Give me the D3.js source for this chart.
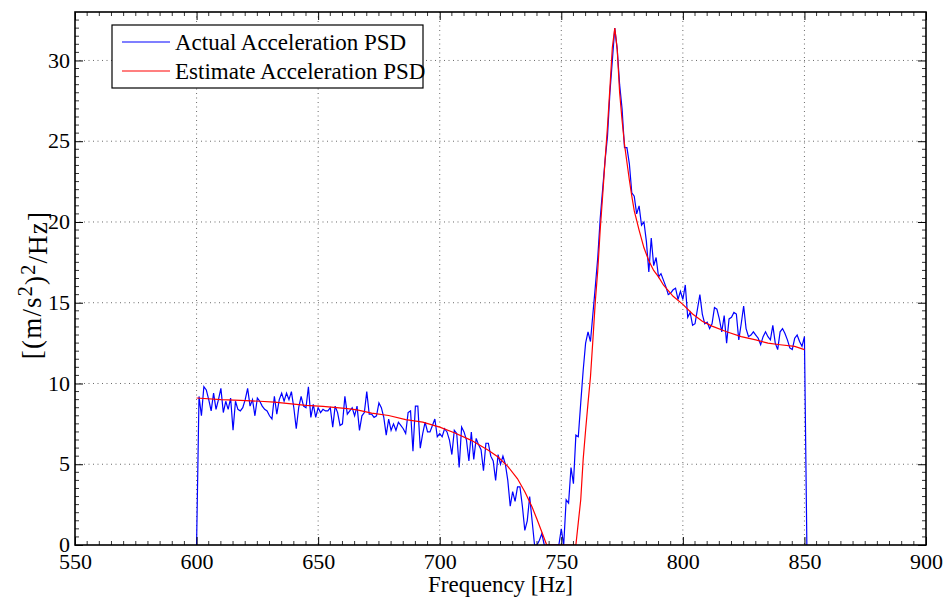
<!DOCTYPE html>
<html>
<head>
<meta charset="utf-8">
<script src="https://cdn.jsdelivr.net/npm/d3@7"></script>
<style>
  html, body { margin: 0; padding: 0; background: #fff; }
  svg text { font-family: "Liberation Serif", "Times New Roman", serif; fill: #000; }
</style>
</head>
<body>
<svg id="chart" width="948" height="603"></svg>
<script>
// ---------- DATA ----------
const freqStart = 600;          // Hz, first sample of the measured PSD
const freqStep = 1;             // Hz between samples
const actualPSD = [
  0, 9.2, 8.0, 9.8, 9.6, 9.0, 8.3, 9.4, 8.4, 9.0,
  9.7, 8.2, 8.9, 8.4, 9.1, 7.1, 8.9, 8.4, 8.3, 8.5,
  9.0, 9.7, 8.6, 9.0, 8.0, 9.1, 8.9, 8.6, 8.4, 8.3,
  8.0, 7.8, 9.2, 8.1, 9.0, 9.4, 8.9, 9.4, 9.0, 9.5,
  8.5, 7.2, 8.5, 9.2, 8.6, 8.5, 9.8, 7.9, 8.7, 7.9,
  8.5, 8.2, 8.4, 8.3, 8.3, 8.5, 7.3, 8.6, 8.2, 7.4,
  7.5, 9.2, 8.1, 8.3, 8.5, 8.0, 8.6, 7.1, 8.0, 8.2,
  9.5, 8.1, 8.1, 7.9, 8.0, 8.8, 8.5, 7.9, 6.8, 7.8,
  7.1, 7.5, 7.1, 7.6, 7.4, 7.2, 6.9, 8.2, 8.3, 5.8,
  8.6, 8.6, 6.0, 6.9, 7.6, 7.0, 7.0, 7.4, 7.8, 6.7,
  6.9, 6.7, 7.2, 7.0, 6.5, 5.6, 7.1, 6.9, 4.8, 7.3,
  7.0, 6.5, 5.2, 7.0, 5.3, 6.6, 6.2, 5.9, 4.6, 6.3,
  6.3, 5.5, 5.2, 4.0, 5.6, 5.0, 5.5, 5.0, 4.0, 2.4,
  3.3, 2.7, 3.6, 3.6, 2.4, 0.9, 1.5, 3.0, 1.5, 0,
  0, 0.3, 0.7, 0, 0, 0, 0, 0, 0, 0,
  1.0, 0, 2.8, 2.6, 4.8, 3.8, 6.8, 6.7, 8.8, 10.8,
  12.5, 13.2, 12.6, 14.3, 16.0, 17.8, 20.2, 22.0, 23.8, 25.3,
  28.0, 30.0, 32.0, 30.7, 28.5, 27.0, 24.6, 24.6, 23.6, 21.8,
  21.6, 20.5, 21.0, 19.8, 20.0, 18.8, 16.9, 19.0, 17.3, 17.8,
  16.6, 16.8, 16.4, 16.0, 15.5, 15.6, 15.8, 15.9, 15.2, 15.7,
  15.2, 16.1, 14.1, 14.4, 13.6, 13.7, 14.6, 15.5, 14.3, 13.7,
  13.8, 13.4, 13.7, 14.7, 14.6, 14.0, 13.2, 14.2, 12.5, 14.0,
  14.1, 14.4, 14.3, 12.7, 13.7, 14.8, 13.4, 12.9, 13.0, 13.2,
  13.0, 12.8, 12.4, 12.9, 13.2, 12.9, 12.7, 13.6, 12.5, 12.1,
  13.2, 13.4, 13.1, 12.7, 12.2, 12.1, 12.8, 13.0, 12.6, 12.3,
  12.9, 0
];
const estimateFreq = [
  600, 610, 618, 626, 632, 638, 645, 652, 662, 666, 672, 679, 686, 693, 700,
  706, 713, 720, 724, 728, 732, 735, 738, 740, 742, 744, 756,
  757, 758, 759, 760, 761, 762, 763, 764, 765, 766, 767, 768, 769, 770, 771, 772,
  773, 774, 775, 776, 777, 778, 779, 780, 782, 784, 786, 788, 790, 792, 796,
  800, 804, 808, 812, 818, 824, 830, 835, 840, 846, 850
];
const estimatePSD = [
  9.1, 9.0, 8.95, 8.9, 8.85, 8.75, 8.65, 8.58, 8.44, 8.37, 8.17, 8.02, 7.76, 7.61, 7.3,
  6.95, 6.48, 5.86, 5.45, 4.87, 4.1, 3.3, 2.35, 1.6, 0.8, 0, 0,
  1.4, 2.8, 5.3, 7.1, 8.8, 10.4, 12.7, 15.1, 17.0, 19.5, 21.6, 23.8, 25.9, 28.3, 30.8, 32.0,
  30.7, 28.0, 26.3, 24.8, 23.7, 22.6, 21.6, 20.7, 19.5, 18.4, 17.6, 17.0, 16.6, 16.1, 15.4,
  14.9, 14.3, 13.85, 13.55, 13.2, 12.9, 12.7, 12.5, 12.4, 12.3, 12.1
];
const xTicks = [550, 600, 650, 700, 750, 800, 850, 900];
const yTicks = [0, 5, 10, 15, 20, 25, 30];
const seriesNames = ["Actual Acceleration PSD", "Estimate Acceleration PSD"];
const seriesColors = ["#0000ff", "#ff0000"];

// ---------- LAYOUT ----------
const svg = d3.select("#chart");
const L = 75, R = 926, T = 12, B = 545;
const x = d3.scaleLinear().domain([550, 900]).range([L, R]);
const y = d3.scaleLinear().domain([0, 33]).range([B, T]);

const actual = actualPSD.map((v, i) => [freqStart + i * freqStep, v]);
const estimate = estimateFreq.map((f, i) => [f, estimatePSD[i]]);

svg.append("defs").append("clipPath").attr("id", "clip")
  .append("rect").attr("x", L).attr("y", T).attr("width", R - L).attr("height", B - T);

// grid
const gridColor = "#444";
svg.append("g").selectAll("line").data(xTicks.filter(t => t > 550 && t < 900)).join("line")
  .attr("x1", d => x(d)).attr("x2", d => x(d)).attr("y1", T).attr("y2", B)
  .attr("stroke", gridColor).attr("stroke-width", 0.8).attr("stroke-dasharray", "1,3.5");
svg.append("g").selectAll("line").data(yTicks.filter(t => t > 0)).join("line")
  .attr("x1", L).attr("x2", R).attr("y1", d => y(d)).attr("y2", d => y(d))
  .attr("stroke", gridColor).attr("stroke-width", 0.8).attr("stroke-dasharray", "1,3.5");

// lines
const line = d3.line().x(d => x(d[0])).y(d => y(d[1]));
const plot = svg.append("g").attr("clip-path", "url(#clip)");
plot.append("path").datum(actual).attr("d", line)
  .attr("fill", "none").attr("stroke", seriesColors[0]).attr("stroke-width", 1.2);
plot.append("path").datum(estimate).attr("d", line)
  .attr("fill", "none").attr("stroke", seriesColors[1]).attr("stroke-width", 1.2);

// axes (ticks inside, box)
const tickLen = 8, minorLen = 4;
const axB = svg.append("g").attr("transform", `translate(0,${B})`)
  .call(d3.axisBottom(x).tickValues(xTicks).tickSize(-tickLen).tickPadding(10).tickFormat(d3.format("d")));
const axT = svg.append("g").attr("transform", `translate(0,${T})`)
  .call(d3.axisTop(x).tickValues(xTicks).tickSize(-tickLen).tickFormat(""));
const axL = svg.append("g").attr("transform", `translate(${L},0)`)
  .call(d3.axisLeft(y).tickValues(yTicks).tickSize(-tickLen).tickPadding(5).tickFormat(d3.format("d")));
const axR = svg.append("g").attr("transform", `translate(${R},0)`)
  .call(d3.axisRight(y).tickValues(yTicks).tickSize(-tickLen).tickFormat(""));
[axB, axT, axL, axR].forEach(g => {
  g.select(".domain").remove();
  g.selectAll("line").attr("stroke", "#000").attr("stroke-width", 1);
  g.selectAll("text").style("font-family", "'Liberation Serif', serif").style("font-size", "22px").attr("fill", "#000");
});
axB.selectAll("text").attr("dy", "0.62em");
axL.selectAll("text").attr("dy", "0.3em");
// minor ticks
const xMinor = d3.range(555, 900, 5).filter(v => v % 50 !== 0);
const yMinor = d3.range(0.5, 33, 0.5).filter(v => v % 5 !== 0);
const mt = svg.append("g").attr("stroke", "#000").attr("stroke-width", 0.8);
mt.selectAll(".xb").data(xMinor).join("line").attr("x1", d => x(d)).attr("x2", d => x(d)).attr("y1", B).attr("y2", B - minorLen);
mt.selectAll(".xt").data(xMinor).join("line").attr("x1", d => x(d)).attr("x2", d => x(d)).attr("y1", T).attr("y2", T + minorLen);
mt.selectAll(".yl").data(yMinor).join("line").attr("x1", L).attr("x2", L + minorLen).attr("y1", d => y(d)).attr("y2", d => y(d));
mt.selectAll(".yr").data(yMinor).join("line").attr("x1", R).attr("x2", R - minorLen).attr("y1", d => y(d)).attr("y2", d => y(d));

svg.append("rect").attr("x", L).attr("y", T).attr("width", R - L).attr("height", B - T)
  .attr("fill", "none").attr("stroke", "#000").attr("stroke-width", 1.6);

// axis labels
svg.append("text").attr("x", (L + R) / 2).attr("y", 592).attr("text-anchor", "middle")
  .style("font-size", "23px").text("Frequency [Hz]");
const yl = svg.append("text").attr("transform", "translate(41,285) rotate(-90)")
  .attr("text-anchor", "middle").style("font-size", "27px").style("letter-spacing", "1.2px");
yl.append("tspan").text("[(m/s");
yl.append("tspan").attr("dy", "-0.45em").style("font-size", "20px").text("2");
yl.append("tspan").attr("dy", "0.45em").text(")");
yl.append("tspan").attr("dy", "-0.45em").style("font-size", "20px").text("2");
yl.append("tspan").attr("dy", "0.45em").text("/Hz]");

// legend
const lg = svg.append("g");
lg.append("rect").attr("x", 112).attr("y", 25).attr("width", 311).attr("height", 63)
  .attr("fill", "#fff").attr("stroke", "#000").attr("stroke-width", 1.2);
seriesNames.forEach((name, i) => {
  const yy = 42 + i * 29;
  lg.append("line").attr("x1", 122).attr("x2", 170).attr("y1", yy).attr("y2", yy)
    .attr("stroke", seriesColors[i]).attr("stroke-width", 1.2);
  lg.append("text").attr("x", 175).attr("y", yy).attr("dy", "0.35em")
    .style("font-size", "23px").text(name);
});
</script>
</body>
</html>
